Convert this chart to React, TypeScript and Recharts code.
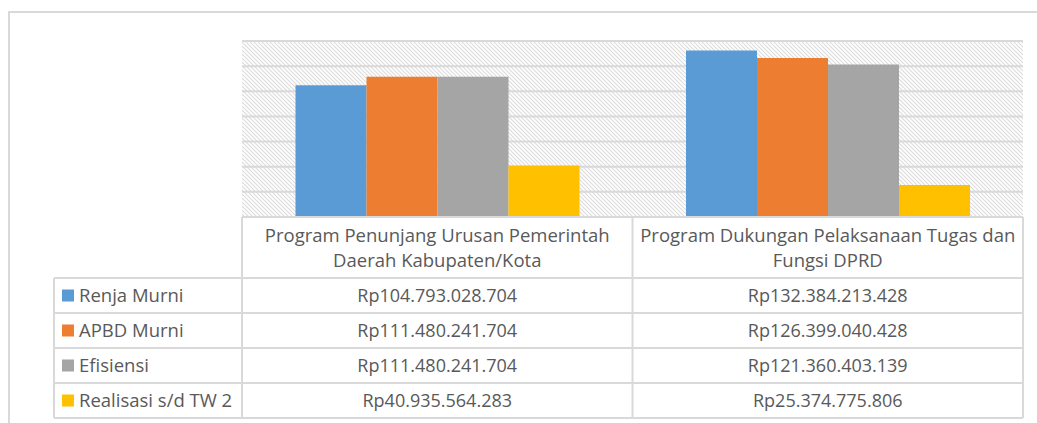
import React from "react";
import { BarChart, Bar, XAxis, YAxis, CartesianGrid } from "recharts";

const categories = [
  "Program Penunjang Urusan Pemerintah Daerah Kabupaten/Kota",
  "Program Dukungan Pelaksanaan Tugas dan Fungsi DPRD",
];
const categoryLines = [
  ["Program Penunjang Urusan Pemerintah", "Daerah Kabupaten/Kota"],
  ["Program Dukungan Pelaksanaan Tugas dan", "Fungsi DPRD"],
];
const seriesNames = ["Renja Murni", "APBD Murni", "Efisiensi", "Realisasi s/d TW 2"];
const seriesKeys = ["renja", "apbd", "efisiensi", "realisasi"];
const seriesColors = ["#5B9BD5", "#ED7D31", "#A5A5A5", "#FFC000"];
const renjaMurni = [104793028704, 132384213428];
const apbdMurni = [111480241704, 126399040428];
const efisiensi = [111480241704, 121360403139];
const realisasi = [40935564283, 25374775806];
const yTicks = [0, 20e9, 40e9, 60e9, 80e9, 100e9, 120e9, 140e9];

const seriesValues = [renjaMurni, apbdMurni, efisiensi, realisasi];

const data = categories.map((c, i) => ({
  name: c,
  idx: i,
  renja: renjaMurni[i],
  apbd: apbdMurni[i],
  efisiensi: efisiensi[i],
  realisasi: realisasi[i],
}));

const fmt = (v: number) =>
  "Rp" + String(v).replace(/\B(?=(\d{3})+(?!\d))/g, ".");

const W = 1037;
const H = 423;
const PLOT_L = 242;
const PLOT_R = 1023;
const PLOT_T = 41;
const PLOT_B = 217;
const HEADER_H = 61;
const ROW_H = 35;
const LEG_L = 54;
const FONT = "'Open Sans', sans-serif";
const FS = 18.5;
const FS_NUM = 18;
const TXT = "#595959";
const LINE = "#d9d9d9";

const TableTick = (props: any) => {
  const { x, y, payload } = props;
  const i = payload.index;
  const lines = categoryLines[i];
  return (
    <g>
      {lines.map((l, k) => (
        <text
          key={k}
          x={x}
          y={y + 24.5 + k * 25}
          textAnchor="middle"
          fontFamily={FONT}
          fontSize={FS}
          fill={TXT}
        >
          {l}
        </text>
      ))}
      {seriesValues.map((vals, r) => (
        <text
          key={"v" + r}
          x={x}
          y={y + HEADER_H + r * ROW_H + ROW_H / 2 + 6.5}
          textAnchor="middle"
          fontFamily={FONT}
          fontSize={FS_NUM}
          fill={TXT}
        >
          {fmt(vals[i])}
        </text>
      ))}
    </g>
  );
};

const TableOverlay = () => {
  const top = PLOT_B;
  const hdrB = top + HEADER_H;
  const bottom = hdrB + ROW_H * 4;
  const mid = (PLOT_L + PLOT_R) / 2;
  const lines: any[] = [];
  lines.push([PLOT_L, top, PLOT_R, top]);
  for (let r = 0; r <= 4; r++) {
    const yy = hdrB + r * ROW_H;
    lines.push([LEG_L, yy, PLOT_R, yy]);
  }
  lines.push([PLOT_L, top, PLOT_L, bottom]);
  lines.push([mid, top, mid, bottom]);
  lines.push([PLOT_R, top, PLOT_R, bottom]);
  lines.push([LEG_L, hdrB, LEG_L, bottom]);
  return (
    <svg
      width={W}
      height={H}
      style={{ position: "absolute", left: 0, top: 0, pointerEvents: "none" }}
    >
      {lines.map((l, k) => (
        <line key={k} x1={l[0]} y1={l[1]} x2={l[2]} y2={l[3]} stroke={LINE} strokeWidth={2} />
      ))}
      {seriesNames.map((n, r) => {
        const cy = hdrB + r * ROW_H + ROW_H / 2;
        return (
          <g key={n}>
            <rect x={62} y={cy - 6} width={12} height={12} fill={seriesColors[r]} />
            <text x={79} y={cy + 6.5} fontFamily={FONT} fontSize={FS} fill={TXT}>
              {n}
            </text>
          </g>
        );
      })}
    </svg>
  );
};

export default function App() {
  return (
    <div
      style={{
        position: "absolute",
        left: 0,
        top: 0,
        width: W,
        height: H,
        overflow: "hidden",
        background: "#fff",
      }}
    >
      <div
        style={{
          position: "absolute",
          left: 8,
          top: 11,
          width: 1200,
          height: 600,
          border: "2px solid #d9d9d9",
          boxSizing: "border-box",
        }}
      />
      <div style={{ position: "absolute", left: 0, top: 0 }}>
        <BarChart
          width={W}
          height={H}
          data={data}
          margin={{ left: PLOT_L, right: W - PLOT_R, top: PLOT_T, bottom: H - PLOT_B - 200 }}
          barCategoryGap="13.7%"
          barGap={0}
        >
          <defs>
            <pattern id="hatch" width={4} height={4} patternUnits="userSpaceOnUse">
              <rect width={4} height={4} fill="#ffffff" />
              <path d="M-1,-1 L5,5 M-1,3 L1,5 M3,-1 L5,1" stroke="#dcdcdc" strokeWidth={1.1} />
            </pattern>
          </defs>
          <CartesianGrid
            vertical={false}
            stroke={LINE}
            strokeWidth={2}
            fill="url(#hatch)"
            fillOpacity={1}
            horizontalValues={yTicks.slice(1)}
          />
          <XAxis
            dataKey="name"
            height={200}
            axisLine={false}
            tickLine={false}
            tickSize={0}
            tickMargin={0}
            interval={0}
            tick={<TableTick />}
          />
          <YAxis hide domain={[0, 140e9]} ticks={yTicks} />
          {seriesKeys.map((k, i) => (
            <Bar key={k} dataKey={k} name={seriesNames[i]} fill={seriesColors[i]} isAnimationActive={false} />
          ))}
        </BarChart>
      </div>
      <TableOverlay />
    </div>
  );
}
